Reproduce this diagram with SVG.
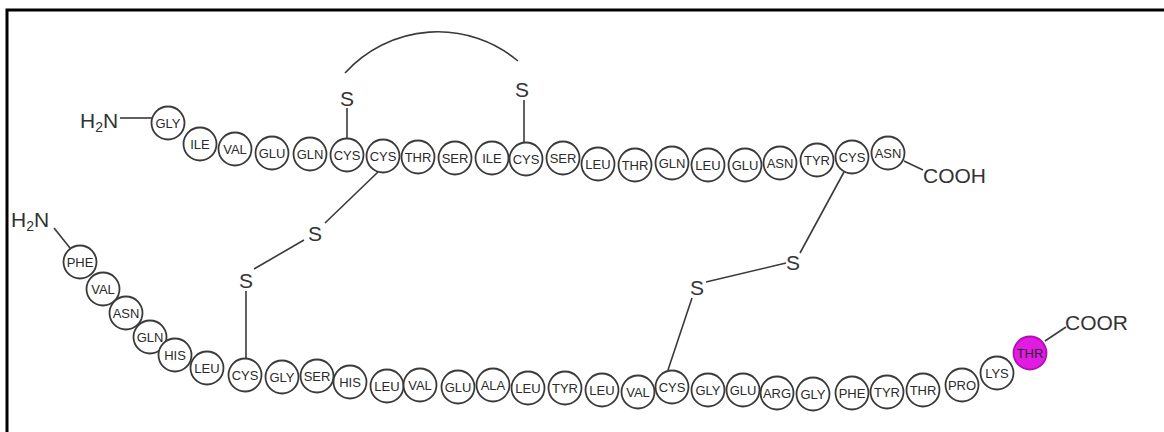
<svg xmlns="http://www.w3.org/2000/svg" width="1164" height="432" viewBox="0 0 1164 432">
<style>
.res circle{fill:#fff;stroke:#3a3a3a;stroke-width:1.8}
.res text{font-family:"Liberation Sans",Arial,sans-serif;font-size:13px;fill:#2a2a2a;text-anchor:middle}
.lbl{font-family:"Liberation Sans",Arial,sans-serif;font-size:21px;fill:#333}
.s{font-family:"Liberation Sans",Arial,sans-serif;font-size:21px;fill:#333;text-anchor:middle}
.bond{stroke:#3a3a3a;stroke-width:1.6;fill:none}
#B29 circle{fill:#e21be2;stroke:#b010b0}
</style>
<rect x="0" y="0" width="1164" height="432" fill="#fff"/>
<path d="M7 432 V10 H1164" fill="none" stroke="#000" stroke-width="3"/>
<g id="connectors">
<line class="bond" x1="120" y1="118" x2="152" y2="118"/>
<line class="bond" x1="904" y1="161" x2="923" y2="170"/>
<line class="bond" x1="347" y1="108" x2="347" y2="138"/>
<line class="bond" x1="524" y1="100" x2="524" y2="142"/>
<path class="bond" d="M345 73 A125 125 0 0 1 518 61"/>
<line class="bond" x1="325" y1="223" x2="378" y2="172"/>
<line class="bond" x1="254" y1="269" x2="304" y2="240"/>
<line class="bond" x1="246" y1="291" x2="246" y2="358"/>
<line class="bond" x1="800" y1="253" x2="844" y2="172"/>
<line class="bond" x1="706" y1="282" x2="786" y2="263"/>
<line class="bond" x1="692" y1="298" x2="668" y2="370"/>
<line class="bond" x1="54" y1="228" x2="70" y2="248"/>
<line class="bond" x1="1045" y1="341" x2="1066" y2="327"/>
</g>
<g id="labels">
<text class="lbl" x="80" y="128">H<tspan font-size="14" dy="4">2</tspan><tspan dy="-4">N</tspan></text>
<text class="lbl" x="923" y="183">COOH</text>
<text class="lbl" x="11" y="227">H<tspan font-size="14" dy="4">2</tspan><tspan dy="-4">N</tspan></text>
<text class="lbl" x="1065" y="330">COOR</text>
<text class="s" x="347" y="106">S</text>
<text class="s" x="522" y="97">S</text>
<text class="s" x="315" y="241">S</text>
<text class="s" x="246" y="288">S</text>
<text class="s" x="793" y="270">S</text>
<text class="s" x="697" y="295">S</text>
</g>
<g id="chainA">
<g class="res" id="A1"><circle cx="168" cy="123" r="16.5"/><text x="168" y="127.5">GLY</text></g>
<g class="res" id="A2"><circle cx="200" cy="144" r="16.5"/><text x="200" y="148.5">ILE</text></g>
<g class="res" id="A3"><circle cx="235" cy="149" r="16.5"/><text x="235" y="153.5">VAL</text></g>
<g class="res" id="A4"><circle cx="272" cy="153" r="16.5"/><text x="272" y="157.5">GLU</text></g>
<g class="res" id="A5"><circle cx="310" cy="154" r="16.5"/><text x="310" y="158.5">GLN</text></g>
<g class="res" id="A6"><circle cx="347" cy="155" r="16.5"/><text x="347" y="159.5">CYS</text></g>
<g class="res" id="A7"><circle cx="383" cy="156" r="16.5"/><text x="383" y="160.5">CYS</text></g>
<g class="res" id="A8"><circle cx="418" cy="157" r="16.5"/><text x="418" y="161.5">THR</text></g>
<g class="res" id="A9"><circle cx="455" cy="158" r="16.5"/><text x="455" y="162.5">SER</text></g>
<g class="res" id="A10"><circle cx="492" cy="158" r="16.5"/><text x="492" y="162.5">ILE</text></g>
<g class="res" id="A11"><circle cx="526" cy="159" r="16.5"/><text x="526" y="163.5">CYS</text></g>
<g class="res" id="A12"><circle cx="563" cy="158" r="16.5"/><text x="563" y="162.5">SER</text></g>
<g class="res" id="A13"><circle cx="598" cy="164" r="16.5"/><text x="598" y="168.5">LEU</text></g>
<g class="res" id="A14"><circle cx="635" cy="165" r="16.5"/><text x="635" y="169.5">THR</text></g>
<g class="res" id="A15"><circle cx="672" cy="163" r="16.5"/><text x="672" y="167.5">GLN</text></g>
<g class="res" id="A16"><circle cx="708" cy="165" r="16.5"/><text x="708" y="169.5">LEU</text></g>
<g class="res" id="A17"><circle cx="745" cy="165" r="16.5"/><text x="745" y="169.5">GLU</text></g>
<g class="res" id="A18"><circle cx="780" cy="163" r="16.5"/><text x="780" y="167.5">ASN</text></g>
<g class="res" id="A19"><circle cx="817" cy="160" r="16.5"/><text x="817" y="164.5">TYR</text></g>
<g class="res" id="A20"><circle cx="852" cy="157" r="16.5"/><text x="852" y="161.5">CYS</text></g>
<g class="res" id="A21"><circle cx="888" cy="153" r="16.5"/><text x="888" y="157.5">ASN</text></g>
</g>
<g id="chainB">
<g class="res" id="B1"><circle cx="80" cy="262" r="16.5"/><text x="80" y="266.5">PHE</text></g>
<g class="res" id="B2"><circle cx="103" cy="289" r="16.5"/><text x="103" y="293.5">VAL</text></g>
<g class="res" id="B3"><circle cx="126" cy="313" r="16.5"/><text x="126" y="317.5">ASN</text></g>
<g class="res" id="B4"><circle cx="150" cy="337" r="16.5"/><text x="150" y="341.5">GLN</text></g>
<g class="res" id="B5"><circle cx="175" cy="355" r="16.5"/><text x="175" y="359.5">HIS</text></g>
<g class="res" id="B6"><circle cx="207" cy="368" r="16.5"/><text x="207" y="372.5">LEU</text></g>
<g class="res" id="B7"><circle cx="245" cy="375" r="16.5"/><text x="245" y="379.5">CYS</text></g>
<g class="res" id="B8"><circle cx="282" cy="377" r="16.5"/><text x="282" y="381.5">GLY</text></g>
<g class="res" id="B9"><circle cx="317" cy="376" r="16.5"/><text x="317" y="380.5">SER</text></g>
<g class="res" id="B10"><circle cx="350" cy="382" r="16.5"/><text x="350" y="386.5">HIS</text></g>
<g class="res" id="B11"><circle cx="387" cy="386" r="16.5"/><text x="387" y="390.5">LEU</text></g>
<g class="res" id="B12"><circle cx="420" cy="385" r="16.5"/><text x="420" y="389.5">VAL</text></g>
<g class="res" id="B13"><circle cx="458" cy="387" r="16.5"/><text x="458" y="391.5">GLU</text></g>
<g class="res" id="B14"><circle cx="493" cy="385" r="16.5"/><text x="493" y="389.5">ALA</text></g>
<g class="res" id="B15"><circle cx="528" cy="388" r="16.5"/><text x="528" y="392.5">LEU</text></g>
<g class="res" id="B16"><circle cx="565" cy="388" r="16.5"/><text x="565" y="392.5">TYR</text></g>
<g class="res" id="B17"><circle cx="602" cy="390" r="16.5"/><text x="602" y="394.5">LEU</text></g>
<g class="res" id="B18"><circle cx="638" cy="392" r="16.5"/><text x="638" y="396.5">VAL</text></g>
<g class="res" id="B19"><circle cx="672" cy="387" r="16.5"/><text x="672" y="391.5">CYS</text></g>
<g class="res" id="B20"><circle cx="708" cy="390" r="16.5"/><text x="708" y="394.5">GLY</text></g>
<g class="res" id="B21"><circle cx="743" cy="390" r="16.5"/><text x="743" y="394.5">GLU</text></g>
<g class="res" id="B22"><circle cx="777" cy="393" r="16.5"/><text x="777" y="397.5">ARG</text></g>
<g class="res" id="B23"><circle cx="813" cy="394" r="16.5"/><text x="813" y="398.5">GLY</text></g>
<g class="res" id="B24"><circle cx="852" cy="393" r="16.5"/><text x="852" y="397.5">PHE</text></g>
<g class="res" id="B25"><circle cx="887" cy="392" r="16.5"/><text x="887" y="396.5">TYR</text></g>
<g class="res" id="B26"><circle cx="923" cy="390" r="16.5"/><text x="923" y="394.5">THR</text></g>
<g class="res" id="B27"><circle cx="962" cy="385" r="16.5"/><text x="962" y="389.5">PRO</text></g>
<g class="res" id="B28"><circle cx="997" cy="373" r="16.5"/><text x="997" y="377.5">LYS</text></g>
<g class="res" id="B29"><circle cx="1030" cy="353" r="16.5"/><text x="1030" y="357.5">THR</text></g>
</g>
</svg>
